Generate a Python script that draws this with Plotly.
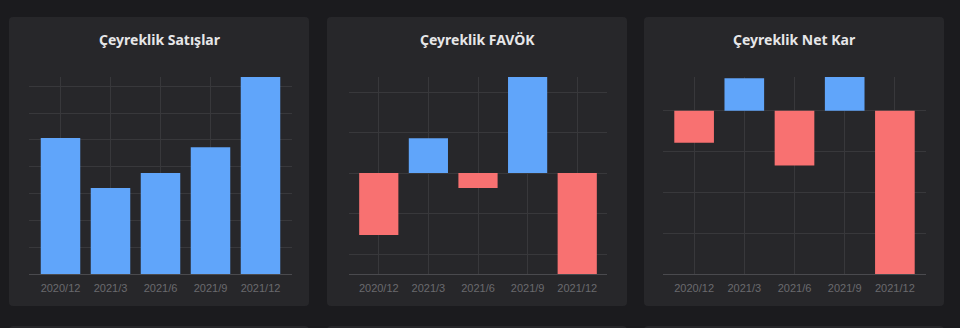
import plotly.graph_objects as go

categories = ["2020/12", "2021/3", "2021/6", "2021/9", "2021/12"]
titles = ["Çeyreklik Satışlar", "Çeyreklik FAVÖK", "Çeyreklik Net Kar"]
sales = [507, 321, 377, 473, 735]
ebitda = [-30.6, 17.2, -7.4, 47.4, -49.8]
net_income = [-7.8, 8.0, -13.4, 8.3, -40.0]
series = [sales, ebitda, net_income]
ticksteps = [100, 20, 10]

W, H = 960, 328
BLUE = "#60a5fa"
RED = "#f87171"
PAGE = "#1b1b1e"
CARD = "#27272a"
GRID = "#38383b"
AXIS = "#4a4a4e"
TICK = "#6a6a6e"

cards = [(9, 309), (327, 627), (644, 944)]
plot_x = [(29, 292), (349, 607), (663, 926)]
xranges = [(-0.63, 4.63), (-0.6, 4.6), (-0.62, 4.62)]
plot_top, plot_bot = 77, 274
title_x = [160, 477, 794]


def px(x):
    return x / W


def py(y):
    return 1 - y / H


def rrect(x0, y0, x1, y1, r=4):
    rx, ry = r / W, r / H
    X0, X1 = px(x0), px(x1)
    Y0, Y1 = py(y0), py(y1)  # Y0 top, Y1 bottom
    return (f"M {X0+rx},{Y0} L {X1-rx},{Y0} Q {X1},{Y0} {X1},{Y0-ry} "
            f"L {X1},{Y1+ry} Q {X1},{Y1} {X1-rx},{Y1} L {X0+rx},{Y1} "
            f"Q {X0},{Y1} {X0},{Y1+ry} L {X0},{Y0-ry} Q {X0},{Y0} {X0+rx},{Y0} Z")


fig = go.Figure()
shapes = []
annotations = []
for i, vals in enumerate(series):
    n = "" if i == 0 else str(i + 1)
    colors = [BLUE if v >= 0 else RED for v in vals]
    fig.add_trace(go.Bar(x=categories, y=vals, marker=dict(color=colors, line=dict(width=0)),
                         xaxis="x" + n, yaxis="y" + n, hoverinfo="x+y", showlegend=False))
    x0, x1 = plot_x[i]
    fig.layout["xaxis" + n] = dict(
        domain=[px(x0), px(x1)], anchor="y" + n, type="category",
        range=list(xranges[i]), showgrid=True, gridcolor=GRID, gridwidth=1,
        showline=True, linecolor=AXIS, linewidth=1, ticks="", ticklabelstandoff=4,
        tickfont=dict(family="Liberation Sans, Arial", size=11, color=TICK),
        fixedrange=True,
    )
    fig.layout["yaxis" + n] = dict(
        domain=[py(plot_bot), py(plot_top)], anchor="x" + n,
        range=[min(0, min(vals)), max(vals)], dtick=ticksteps[i], tick0=0,
        showgrid=True, gridcolor=GRID, gridwidth=1, zeroline=True,
        zerolinecolor=GRID, zerolinewidth=1, showticklabels=False,
        showline=False, fixedrange=True,
    )
    cx0, cx1 = cards[i]
    shapes.append(dict(type="path", xref="paper", yref="paper", path=rrect(cx0, 17, cx1, 306),
                       fillcolor=CARD, line=dict(width=0), layer="below"))
    shapes.append(dict(type="path", xref="paper", yref="paper", path=rrect(cx0, 326, cx1, 345),
                       fillcolor=CARD, line=dict(width=0), layer="below"))
    annotations.append(dict(text=titles[i], xref="paper", yref="paper", x=px(title_x[i]), y=py(39),
                            xanchor="center", yanchor="middle", showarrow=False,
                            font=dict(family="Noto Sans", size=14, color="#e6e6e8", weight=700)))

fig.update_layout(
    width=W, height=H, margin=dict(l=0, r=0, t=0, b=0),
    paper_bgcolor=PAGE, plot_bgcolor="rgba(0,0,0,0)",
    bargap=0.21, shapes=shapes, annotations=annotations,
)
fig.write_html("out.html", config={"displayModeBar": False})
